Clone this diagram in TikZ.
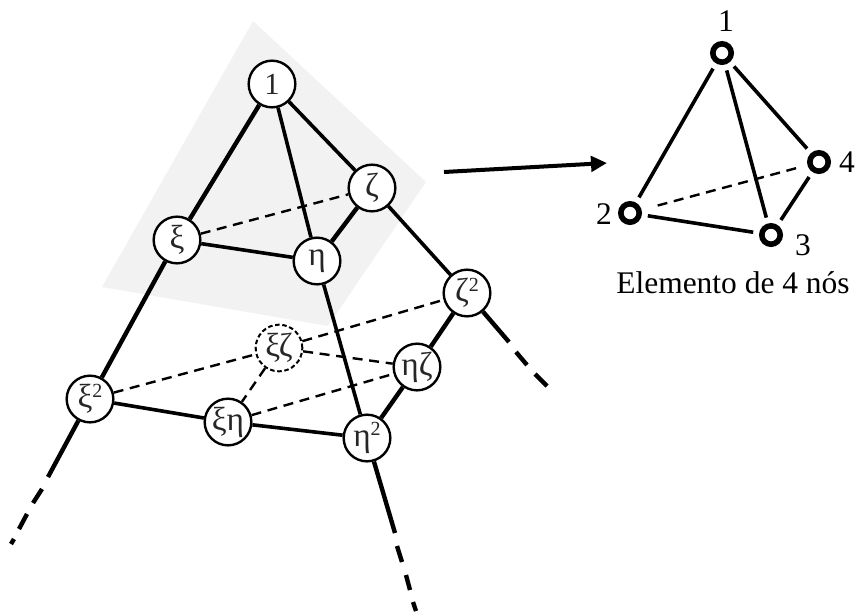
\documentclass[tikz,border=0pt]{standalone}
\usepackage{fontspec}
\setmainfont{Liberation Serif}
\usetikzlibrary{arrows.meta}
\newcommand{\supr}[1]{\raisebox{0.75ex}{\fontsize{15pt}{15pt}\selectfont #1}}
\newcommand{\gk}[1]{{\fontsize{25pt}{26pt}\selectfont #1}}
\tikzset{
  gnode/.style={circle,draw=black,fill=white,line width=1.8pt,minimum size=35pt,inner sep=0pt,
    font=\fontsize{23pt}{24pt}\selectfont,text=black!85},
  gdash/.style={gnode,line width=1.5pt,dash pattern=on 3.4pt off 2pt},
  ring/.style={circle,draw=black,line width=4.2pt,minimum size=13.8pt,inner sep=0pt,outer sep=6.6pt},
  edge/.style={line width=2.7pt},
  heavy/.style={line width=3.3pt},
  dashedge/.style={line width=1.8pt,dash pattern=on 7.5pt off 5pt},
  label/.style={font=\fontsize{23.6pt}{26pt}\selectfont,inner sep=0pt},
}
\begin{document}
\begin{tikzpicture}[x=0.75pt,y=-0.75pt]
\useasboundingbox (0,0) rectangle (856,612);
\fill[black!5] (253,21) -- (426,182) -- (328,326) -- (102,287) -- cycle;
% main nodes
\node[gnode] (n1) at (272,84) {1};
\node[gnode] (z) at (372,188) {\gk{ζ}};
\node[gnode] (x) at (177,240) {\gk{ξ}};
\node[gnode] (e) at (317,261) {\gk{η}};
\node[gnode] (x2) at (90,399) {\gk{ξ}\supr{2}};
\node[gnode] (xe) at (228,422) {\gk{ξη}};
\node[gdash] (xz) at (279,348) {\gk{ξζ}};
\node[gnode] (ez) at (417,367) {\gk{ηζ}};
\node[gnode] (e2) at (367,438) {\gk{η}\supr{2}};
\node[gnode] (z2) at (467,293) {\gk{ζ}\supr{2}};
% solid connectors
\draw[heavy] (n1) -- (x);
\draw[edge] (n1) -- (e);
\draw[edge] (n1) -- (z);
\draw[edge] (x) -- (e);
\draw[heavy] (z) -- (e);
\draw[heavy] (x) -- (x2);
\draw[edge] (e) -- (e2);
\draw[edge] (z) -- (z2);
\draw[edge] (x2) -- (xe);
\draw[edge] (xe) -- (e2);
\draw[heavy] (e2) -- (ez);
\draw[heavy] (ez) -- (z2);
% dashed connectors
\draw[dashedge] (x) -- (z);
\draw[dashedge] (x2) -- (xz);
\draw[dashedge] (xz) -- (z2);
\draw[dashedge] (xz) -- (xe);
\draw[dashedge] (xz) -- (ez);
\draw[dashedge] (xe) -- (ez);
% tails
\coordinate (ta1) at (48,477); \coordinate (ta2) at (42,489); \coordinate (ta3) at (33,503);
\coordinate (ta4) at (27,514); \coordinate (ta5) at (19,529); \coordinate (ta6) at (14,539); \coordinate (ta7) at (11,544);
\draw[heavy] (x2) -- (ta1);
\draw[heavy] (ta2) -- (ta3);
\draw[heavy] (ta4) -- (ta5);
\draw[heavy] (ta6) -- (ta7);
\coordinate (tb1) at (395,533); \coordinate (tb2) at (397,546); \coordinate (tb3) at (402,562);
\coordinate (tb4) at (406,575); \coordinate (tb5) at (410,590); \coordinate (tb6) at (413,602); \coordinate (tb7) at (416,611);
\draw[heavy] (e2) -- (tb1);
\draw[heavy] (tb2) -- (tb3);
\draw[heavy] (tb4) -- (tb5);
\draw[heavy] (tb6) -- (tb7);
\coordinate (tc1) at (509,342); \coordinate (tc2) at (516,352); \coordinate (tc3) at (527,365);
\coordinate (tc4) at (535,374); \coordinate (tc5) at (547,386);
\draw[heavy] (z2) -- (tc1);
\draw[heavy] (tc2) -- (tc3);
\draw[heavy] (tc4) -- (tc5);
% arrow
\coordinate (aa) at (444,172); \coordinate (ab) at (607,163);
\draw[line width=3pt,-{Triangle[length=12pt,width=11.5pt]}] (aa) -- (ab);
% right element
\node[ring] (r1) at (722,53) {};
\node[ring] (r2) at (630,213) {};
\node[ring] (r3) at (771,235) {};
\node[ring] (r4) at (819,162) {};
\draw[edge] (r1) -- (r2);
\draw[edge] (r1) -- (r3);
\draw[edge] (r1) -- (r4);
\draw[edge] (r2) -- (r3);
\draw[edge] (r3) -- (r4);
\draw[dashedge,shorten <=8pt] (r2) -- (r4);
\node[label] (l1) at (726,21) {1};
\node[label] (l2) at (604,214) {2};
\node[label] (l3) at (803,245) {3};
\node[label] (l4) at (847,162) {4};
\node[label] (cap) at (733,283) {Elemento de 4 nós};
\end{tikzpicture}
\end{document}
